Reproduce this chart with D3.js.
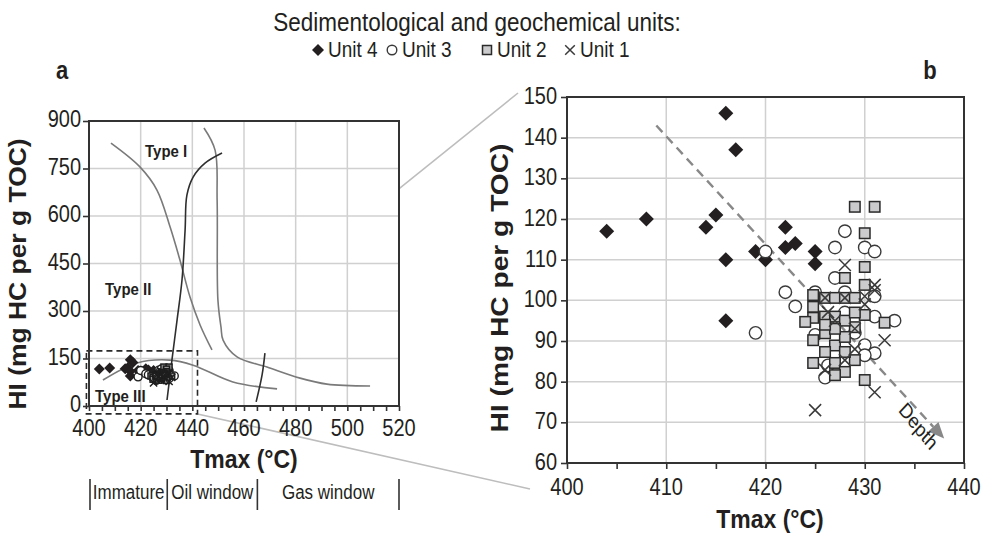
<!DOCTYPE html>
<html>
<head>
<meta charset="utf-8">
<script src="https://cdn.jsdelivr.net/npm/d3@7"></script>
<style>
  body { margin: 0; background: #fff; }
  text { font-family: "Liberation Sans", Arial, sans-serif; fill: #231f20; }
</style>
</head>
<body>
<div id="chart"></div>
<script>
// data: [Tmax, HI]
var unit4 = [[404,117],[408,120],[414,118],[415,121],[416,146],[417,137],[416,110],[416,95],
  [419,112],[420,110],[422,118],[422,113],[423,114],[425,112],[425,109]];
var unit3 = [[419,92],[420,112],[422,102],[423,98.5],[425,102],[427,113],[428,117],[430,113],
  [431,112],[427,105.5],[428,102],[433,95],[426,81],[431,87],[431,96],[425,91.5],[430,89],
  [430,86.5],[429,92],[426.3,84],[431,101],[428,97],[426,95]];
var unit2 = [[429,123],[431,123],[430,116.5],[430,108.2],[428,105.5],[430,103.8],[424.8,101.3],
  [426,100.6],[427,100.6],[428,100.6],[429,100.6],[424.8,98.4],[430,96.4],[424.8,95.7],[432,94.5],
  [424,94.7],[424.8,90.2],[426,91.9],[427,88.9],[429,93.4],[429,85.3],[424.8,84.6],[426,87.3],
  [427,84.6],[428,82.4],[427,81.6],[430,80.4],[428,87.3],[428,91],[426,96],[427,96],[428,95],
  [429,97],[427,93],[426,94]];
var unit1 = [[428,108.7],[431,103.8],[431,102.5],[426,100.6],[428,100.6],[432,90.2],[431,77.4],
  [425,73],[428,85.3],[426,82.9],[426.3,97.1],[429,93],[430,101],[427,95],[429,88],[430,99]];

// kerogen type paths and maturity lines for panel a
var typeI = [[444.5,878],[448.8,808],[449.6,650],[449.9,335],[451.1,249],[451.9,208],[457.3,155],
  [468.9,123],[481.7,88],[492.1,69],[508.8,63]];
var typeII = [[408.5,830],[419.7,755],[426.3,682],[431.4,565],[435.2,461],[439.1,344],[443,256],[447.6,177]];
var typeIII = [[405.4,82],[418.6,136],[431.4,145],[440.3,129],[455.7,76],[472.8,54]];
var roLow = [[430.2,19],[432.1,145],[434.1,272],[436,398],[437.2,556],[437.9,666],[440.3,723],
  [444.9,767],[451.5,799]];
var roHigh = [[464.7,13],[467,98],[468.1,167]];

var windows = [{name:"Immature", from:400, to:430}, {name:"Oil window", from:430, to:465},
  {name:"Gas window", from:465, to:520}];
var zoomBox = [399, 442, -25, 174];   // Tmax min/max, HI min/max of dashed box
var depthArrow = [[409,143],[438,66]];

var xTicksA = [400,420,440,460,480,500,520];
var yTicksA = [0,150,300,450,600,750,900];
var xTicksB = [400,410,420,430,440];
var yTicksB = [60,70,80,90,100,110,120,130,140,150];

var width = 986, height = 541;
var SY = 1.15;   // the figure is a bit stretched vertically

var svg = d3.select("#chart").append("svg")
  .attr("width", width).attr("height", height);

// text helper, keeps the vertical stretch of the original
function label(x, y, s, size, opts) {
  opts = opts || {};
  var g = svg.append("g").attr("transform", "translate(" + x + "," + y + ") scale(1," + SY + ")");
  var t = g.append("text").text(s)
    .attr("font-size", size)
    .attr("text-anchor", opts.anchor || "middle")
    .attr("font-weight", opts.bold ? "bold" : "normal");
  if (opts.rotate) t.attr("transform", "rotate(" + opts.rotate + ")");
  return t;
}

// scales
var xa = d3.scaleLinear().domain([400,520]).range([89,399]);
var ya = d3.scaleLinear().domain([0,900]).range([406,121]);
var xb = d3.scaleLinear().domain([400,440]).range([567,964]);
var yb = d3.scaleLinear().domain([60,150]).range([463,97]);

// marker drawing
function drawMarkers(g, data, kind, xs, ys, s, ink) {
  ink = ink || "#3a3a3a";
  var sel = g.selectAll(null).data(data).enter();
  if (kind === "diamond") {
    sel.append("path")
      .attr("d", function(d) {
        var x = xs(d[0]), y = ys(d[1]);
        return "M" + x + "," + (y - s) + "L" + (x + s) + "," + y + "L" + x + "," + (y + s) + "L" + (x - s) + "," + y + "Z";
      })
      .attr("fill", "#231f20");
  } else if (kind === "circle") {
    sel.append("circle")
      .attr("cx", function(d) { return xs(d[0]); })
      .attr("cy", function(d) { return ys(d[1]); })
      .attr("r", s * 0.8)
      .attr("fill", "#fff").attr("stroke", ink).attr("stroke-width", 1.4);
  } else if (kind === "square") {
    sel.append("rect")
      .attr("x", function(d) { return xs(d[0]) - s * 0.75; })
      .attr("y", function(d) { return ys(d[1]) - s * 0.75; })
      .attr("width", s * 1.5).attr("height", s * 1.5)
      .attr("fill", "#cbcbcd").attr("stroke", "#2a2a2a").attr("stroke-width", 1.5);
  } else {
    sel.append("path")
      .attr("d", function(d) {
        var x = xs(d[0]), y = ys(d[1]), c = s * 0.8;
        return "M" + (x - c) + "," + (y - c) + "L" + (x + c) + "," + (y + c) +
          "M" + (x - c) + "," + (y + c) + "L" + (x + c) + "," + (y - c);
      })
      .attr("fill", "none").attr("stroke", ink).attr("stroke-width", 1.5);
  }
}

// ---------- title and legend ----------
label(477, 31, "Sedimentological and geochemical units:", 22.5);
var legendItems = [
  {kind:"diamond", name:"Unit 4", x:318},
  {kind:"circle", name:"Unit 3", x:392},
  {kind:"square", name:"Unit 2", x:487},
  {kind:"cross", name:"Unit 1", x:570}
];
legendItems.forEach(function(it) {
  var g = svg.append("g");
  var lx = d3.scaleLinear().domain([0,1]).range([it.x, it.x + 1]);
  var ly = d3.scaleLinear().domain([0,1]).range([50, 51]);
  drawMarkers(g, [[0,0]], it.kind, lx, ly, 6);
  label(it.x + 10, 57, it.name, 19, {anchor: "start"});
});

label(62, 79, "a", 22, {bold: true});
label(930, 79, "b", 22, {bold: true});

// ---------- zoom connector lines ----------
var conn = svg.append("g").attr("stroke", "#bdbdbd").attr("stroke-width", 1.6);
conn.append("line")
  .attr("x1", xa(zoomBox[1])).attr("y1", ya(zoomBox[3]))
  .attr("x2", xb(400) - 49).attr("y2", yb(150) - 4);
conn.append("line")
  .attr("x1", xa(zoomBox[1])).attr("y1", ya(zoomBox[2]))
  .attr("x2", xb(400) - 37).attr("y2", yb(60) + 26);

// ---------- panel a ----------
var pa = svg.append("g");
pa.append("rect").attr("x", xa(400)).attr("y", ya(900))
  .attr("width", xa(520) - xa(400)).attr("height", ya(0) - ya(900)).attr("fill", "#fff");

// grid
pa.selectAll(".gx").data(xTicksA.slice(1, -1)).enter().append("line")
  .attr("x1", xa).attr("x2", xa).attr("y1", ya(0)).attr("y2", ya(900))
  .attr("stroke", "#d0d0d0").attr("stroke-width", 1.5);
pa.selectAll(".gy").data(yTicksA.slice(1, -1)).enter().append("line")
  .attr("y1", ya).attr("y2", ya).attr("x1", xa(400)).attr("x2", xa(520))
  .attr("stroke", "#d0d0d0").attr("stroke-width", 1.5);

// curves
var lineA = d3.line().x(function(d) { return xa(d[0]); }).y(function(d) { return ya(d[1]); })
  .curve(d3.curveCatmullRom.alpha(0.5));
[typeI, typeII, typeIII].forEach(function(c) {
  pa.append("path").attr("d", lineA(c)).attr("fill", "none")
    .attr("stroke", "#7a7a7a").attr("stroke-width", 1.6);
});
[roLow, roHigh].forEach(function(c) {
  pa.append("path").attr("d", lineA(c)).attr("fill", "none")
    .attr("stroke", "#2e2e2e").attr("stroke-width", 1.6);
});

// markers (small, darker)
var ma = pa.append("g");
drawMarkers(ma, unit4, "diamond", xa, ya, 5.5);
drawMarkers(ma, unit3, "circle", xa, ya, 5, "#1e1e1e");
drawMarkers(ma, unit2, "square", xa, ya, 4, "#1e1e1e");
drawMarkers(ma, unit1, "cross", xa, ya, 4.5, "#1e1e1e");
ma.selectAll("rect").attr("fill", "#9a9a9a").attr("stroke", "#1e1e1e");

// dashed box
pa.append("rect")
  .attr("x", xa(zoomBox[0])).attr("y", ya(zoomBox[3]))
  .attr("width", xa(zoomBox[1]) - xa(zoomBox[0]))
  .attr("height", ya(zoomBox[2]) - ya(zoomBox[3]))
  .attr("fill", "none").attr("stroke", "#2a2a2a").attr("stroke-width", 1.6)
  .attr("stroke-dasharray", "6,4");

// frame
pa.append("rect").attr("x", xa(400)).attr("y", ya(900))
  .attr("width", xa(520) - xa(400)).attr("height", ya(0) - ya(900))
  .attr("fill", "none").attr("stroke", "#333").attr("stroke-width", 2);

// axes
var xAxisA = d3.axisBottom(xa).tickValues(d3.range(400, 521, 5)).tickSize(5).tickFormat("");
pa.append("g").attr("transform", "translate(0," + ya(0) + ")").call(xAxisA);
var yAxisA = d3.axisLeft(ya).tickValues(yTicksA).tickSize(6).tickFormat("");
pa.append("g").attr("transform", "translate(" + xa(400) + ",0)").call(yAxisA);
pa.selectAll(".domain").remove();
pa.selectAll(".tick line").attr("stroke", "#333").attr("stroke-width", 1.6);

xTicksA.forEach(function(v) { label(xa(v), 436, v, 20); });
yTicksA.forEach(function(v) { label(81, ya(v) + 6, v, 20, {anchor: "end"}); });

label(145, 157, "Type I", 15, {bold: true, anchor: "start"});
label(105, 295, "Type II", 15, {bold: true, anchor: "start"});
label(95, 402, "Type III", 15, {bold: true, anchor: "start"});

label(244, 468, "Tmax (\u00b0C)", 23, {bold: true});
label(26, 274, "HI (mg HC per g TOC)", 23, {bold: true, rotate: -90});

// maturity windows
var winG = svg.append("g");
var bounds = [400, 430, 465, 520];
var wx = d3.scaleLinear().domain([400,520]).range([90,399]);
winG.selectAll("line").data(bounds).enter().append("line")
  .attr("x1", wx).attr("x2", wx).attr("y1", 479).attr("y2", 510)
  .attr("stroke", "#333").attr("stroke-width", 1.6);
windows.forEach(function(w) {
  label((wx(w.from) + wx(w.to)) / 2, 499, w.name, 17);
});

// ---------- panel b ----------
var pb = svg.append("g");
pb.selectAll(".gx").data(xTicksB.slice(1, -1)).enter().append("line")
  .attr("x1", xb).attr("x2", xb).attr("y1", yb(60)).attr("y2", yb(150))
  .attr("stroke", "#d0d0d0").attr("stroke-width", 1.5);
pb.selectAll(".gy").data(yTicksB.slice(1, -1)).enter().append("line")
  .attr("y1", yb).attr("y2", yb).attr("x1", xb(400)).attr("x2", xb(440))
  .attr("stroke", "#d0d0d0").attr("stroke-width", 1.5);

// depth arrow
var a0 = [xb(depthArrow[0][0]), yb(depthArrow[0][1])];
var a1 = [xb(depthArrow[1][0]), yb(depthArrow[1][1])];
var ang = Math.atan2(a1[1] - a0[1], a1[0] - a0[0]);
var headLen = 16;
pb.append("line")
  .attr("x1", a0[0]).attr("y1", a0[1])
  .attr("x2", a1[0] - headLen * Math.cos(ang)).attr("y2", a1[1] - headLen * Math.sin(ang))
  .attr("stroke", "#888").attr("stroke-width", 2.4).attr("stroke-dasharray", "9,6");
pb.append("path")
  .attr("d", "M0,0L-" + headLen + ",-7L-" + headLen + ",7Z")
  .attr("transform", "translate(" + a1[0] + "," + a1[1] + ") rotate(" + (ang * 180 / Math.PI) + ")")
  .attr("fill", "#888");

var mb = pb.append("g");
drawMarkers(mb, unit4, "diamond", xb, yb, 7.5);
drawMarkers(mb, unit3, "circle", xb, yb, 7.8);
drawMarkers(mb, unit2, "square", xb, yb, 7);
drawMarkers(mb, unit1, "cross", xb, yb, 7.5);

pb.append("rect").attr("x", xb(400)).attr("y", yb(150))
  .attr("width", xb(440) - xb(400)).attr("height", yb(60) - yb(150))
  .attr("fill", "none").attr("stroke", "#333").attr("stroke-width", 2);

var xAxisB = d3.axisBottom(xb).tickValues(d3.range(400, 441, 5)).tickSize(6).tickFormat("");
pb.append("g").attr("transform", "translate(0," + yb(60) + ")").call(xAxisB);
var yAxisB = d3.axisLeft(yb).tickValues(yTicksB).tickSize(6).tickFormat("");
pb.append("g").attr("transform", "translate(" + xb(400) + ",0)").call(yAxisB);
pb.selectAll(".domain").remove();
pb.selectAll(".tick line").attr("stroke", "#333").attr("stroke-width", 1.6);

xTicksB.forEach(function(v) { label(xb(v), 495, v, 20); });
yTicksB.forEach(function(v) { label(557, yb(v) + 7, v, 20, {anchor: "end"}); });

label(914, 431, "Depth", 18, {rotate: 47});
label(770, 528, "Tmax (\u00b0C)", 23, {bold: true});
label(508, 288, "HI (mg HC per g TOC)", 24.5, {bold: true, rotate: -90});
</script>
</body>
</html>
